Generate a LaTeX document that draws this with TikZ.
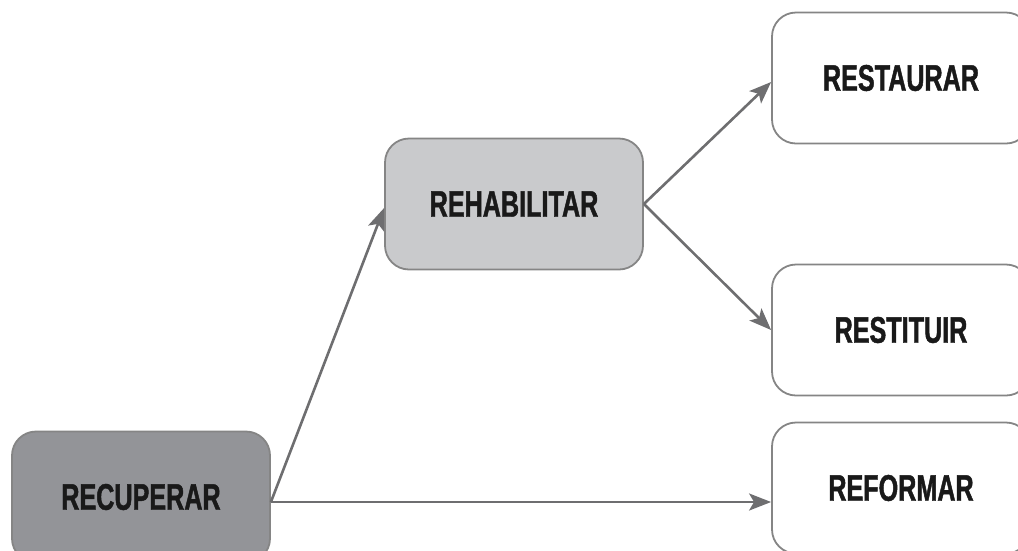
\documentclass[tikz,border=0pt]{standalone}
\usepackage{fontspec}
\newfontfamily\boxfont{Liberation Sans}[FakeStretch=0.68, BoldFeatures={FakeBold=1.2}]
\usepackage{xcolor}
\definecolor{darkbox}{HTML}{939498}
\definecolor{lightbox}{HTML}{C9CACC}
\definecolor{edge}{HTML}{858585}
\definecolor{wire}{HTML}{6E6E70}
\usepackage{tikz}
\usetikzlibrary{arrows.meta,positioning}

\begin{document}
\begin{tikzpicture}[
  x=1pt, y=-1pt,
  font=\boxfont\bfseries\fontsize{37}{40}\selectfont,
  box/.style={draw=edge, line width=1.8pt, rounded corners=24pt,
    minimum width=258pt, minimum height=131pt, align=center, text=black!90},
  top/.style={box, fill=darkbox},
  mid/.style={box, fill=lightbox},
  leaf/.style={box, fill=white},
  link/.style={draw=wire, line width=2.6pt,
    -{Stealth[length=22pt,width=17pt,inset=5pt]}}
]
  \useasboundingbox (0,0) rectangle (1018,550);
  \clip (0,0) rectangle (1018,550);
  \node[top] (rec) at (141,497) {RECUPERAR};
  \node[mid] (reh) at (514,204) {REHABILITAR};
  \node[leaf] (rau) at (901,78) {RESTAURAR};
  \node[leaf] (rtu) at (901,330) {RESTITUIR};
  \node[leaf] (ref) at (901,488) {REFORMAR};
  \coordinate (out) at ([yshift=-5pt]rec.east);
  \draw[link] (out) -- ([yshift=-4pt]reh.west);
  \draw[link] (out) -- (out -| ref.west);
  \draw[link] (reh.east) -- ([yshift=-4pt]rau.west);
  \draw[link] (reh.east) -- (rtu.west);
\end{tikzpicture}
\end{document}
